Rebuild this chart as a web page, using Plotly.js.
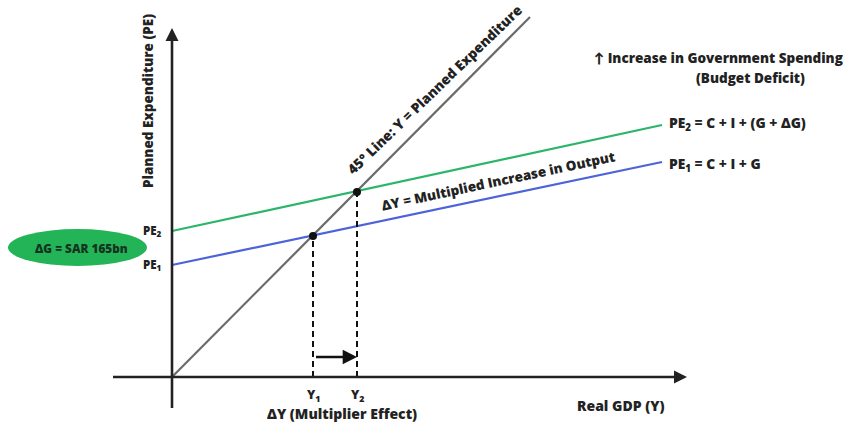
<!DOCTYPE html>
<html>
<head>
<meta charset="utf-8">
<script src="https://cdn.plot.ly/plotly-3.0.1.min.js"></script>
<style>html,body{margin:0;padding:0;background:#fff;}#chart{width:846px;height:429px;}</style>
</head>
<body>
<div id="chart"></div>
<script>
// Economic units (origin = 0,0)
const line45X = [0, 35.8];
const line45Y = [0, 36.0];
const pe1X = [0, 49];
const pe1Y = [11.2, 21.5];
const pe2X = [0, 49];
const pe2Y = [14.6, 25.2];
const eqX = [14.1, 18.5];      // Y1, Y2
const eqY = [14.1, 18.5];      // PE at equilibria
const eqLabels = ["Y<sub>1</sub>", "Y<sub>2</sub>"];
const peLabels = ["PE<sub>1</sub>", "PE<sub>2</sub>"];
const peIntercepts = [11.2, 14.6];

const FONT = "Open Sans, Lato, sans-serif";
const DARK = "#222";
const W = 800;

const traces = [
  {x: line45X, y: line45Y, mode: "lines", line: {color: "#6b6b6b", width: 2.2}, hoverinfo: "skip"},
  {x: pe2X, y: pe2Y, mode: "lines", line: {color: "#2bb56b", width: 2.2}, hoverinfo: "skip"},
  {x: pe1X, y: pe1Y, mode: "lines", line: {color: "#4d63d9", width: 2.2}, hoverinfo: "skip"},
  {x: [eqX[0], eqX[0]], y: [0, eqY[0]], mode: "lines", line: {color: "#111", width: 2, dash: "6px,4px"}, hoverinfo: "skip"},
  {x: [eqX[1], eqX[1]], y: [0, eqY[1]], mode: "lines", line: {color: "#111", width: 2, dash: "6px,4px"}, hoverinfo: "skip"},
  {x: eqX, y: eqY, mode: "markers", marker: {color: "#111", size: 8}, hoverinfo: "skip"}
];

const f = (size, color) => ({family: FONT, size: size, color: color || DARK, weight: W});
const ann = [];
// axes arrows
ann.push({x: 51.5, y: 0, ax: -6.2, ay: 0, xref: "x", yref: "y", axref: "x", ayref: "y",
  showarrow: true, arrowhead: 2, arrowsize: 1, arrowwidth: 2.6, arrowcolor: DARK, text: " "});
ann.push({x: 0, y: 34.9, ax: 0, ay: -4.1, xref: "x", yref: "y", axref: "x", ayref: "y",
  showarrow: true, arrowhead: 2, arrowsize: 1, arrowwidth: 2.6, arrowcolor: DARK, text: " "});
// multiplier arrow
ann.push({x: eqX[1], y: 2.0, ax: eqX[0], ay: 2.0, xref: "x", yref: "y", axref: "x", ayref: "y",
  showarrow: true, arrowhead: 2, arrowsize: 1.1, arrowwidth: 2.6, arrowcolor: "#111", text: " "});
// Y labels
for (let i = 0; i < 2; i++) {
  ann.push({x: eqX[i], y: -1.8, xref: "x", yref: "y", text: eqLabels[i], showarrow: false, font: f(12.5)});
  ann.push({x: -2.0, y: peIntercepts[i], xref: "x", yref: "y", text: peLabels[i], showarrow: false, font: f(11.5)});
}
ann.push({x: 17.0, y: -3.6, xref: "x", yref: "y", text: "ΔY (Multiplier Effect)", showarrow: false, font: f(14)});
ann.push({x: 44.8, y: -2.8, xref: "x", yref: "y", text: "Real GDP (Y)", showarrow: false, font: f(14)});
ann.push({x: -2.4, y: 27.6, xref: "x", yref: "y", text: "Planned Expenditure (PE)", showarrow: false,
  textangle: -90, font: f(13.5)});
ann.push({x: 26.2, y: 28.8, xref: "x", yref: "y", text: "45° Line: Y = Planned Expenditure", showarrow: false,
  textangle: -44, font: f(13.8)});
ann.push({x: 32.6, y: 19.6, xref: "x", yref: "y", text: "ΔY = Multiplied Increase in Output", showarrow: false,
  textangle: -12, font: f(13.5)});
ann.push({x: 54.6, y: 31.9, xref: "x", yref: "y", text: "↑ Increase in Government Spending", showarrow: false, font: f(13.5)});
ann.push({x: 57.8, y: 29.9, xref: "x", yref: "y", text: "(Budget Deficit)", showarrow: false, font: f(13.5)});
ann.push({x: 49.5, y: 25.4, xref: "x", yref: "y", xanchor: "left", text: "PE<sub>2</sub> = C + I + (G + ΔG)", showarrow: false, font: f(13.8)});
ann.push({x: 49.5, y: 21.3, xref: "x", yref: "y", xanchor: "left", text: "PE<sub>1</sub> = C + I + G", showarrow: false, font: f(13.8)});
ann.push({x: -9.1, y: 12.95, xref: "x", yref: "y", xanchor: "center", text: "ΔG = SAR 165bn", showarrow: false, font: f(11.8, "#16331f")});

const layout = {
  width: 846, height: 429,
  margin: {l: 0, r: 0, t: 0, b: 0},
  paper_bgcolor: "#fff", plot_bgcolor: "#fff",
  showlegend: false,
  xaxis: {range: [-17.2, 67.4], visible: false, fixedrange: true},
  yaxis: {range: [-5.2, 37.7], visible: false, fixedrange: true},
  shapes: [
    {type: "circle", xref: "x", yref: "y", x0: -16.4, x1: -2.5, y0: 11.1, y1: 14.8,
      fillcolor: "#22b457", line: {width: 0}, layer: "below"}
  ],
  annotations: ann
};

Plotly.newPlot("chart", traces, layout, {staticPlot: true, displayModeBar: false});
</script>
</body>
</html>
